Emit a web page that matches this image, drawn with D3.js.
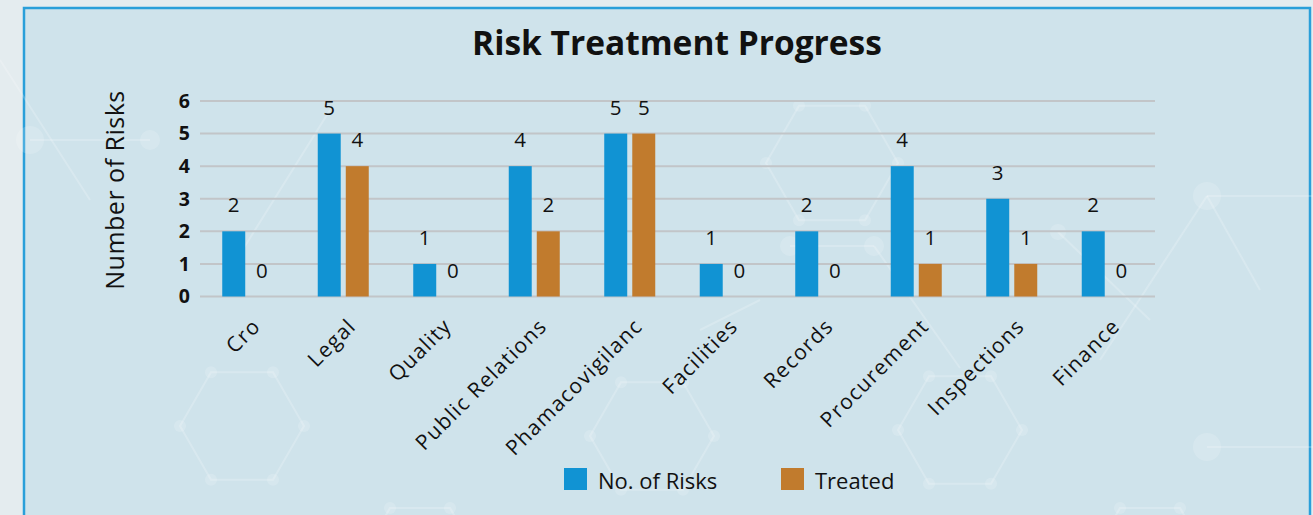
<!DOCTYPE html>
<html>
<head>
<meta charset="utf-8">
<script src="https://cdn.jsdelivr.net/npm/d3@7"></script>
<style>
  html, body { margin: 0; padding: 0; background: #e4ecef; }
  svg { display: block; font-family: "Open Sans", "DejaVu Sans", sans-serif; }
</style>
</head>
<body>
<svg id="chart" width="1313" height="515"></svg>
<script>
// Departments on the x axis
const categories = ["Cro", "Legal", "Quality", "Public Relations", "Phamacovigilanc",
                    "Facilities", "Records", "Procurement", "Inspections", "Finance"];
// Number of risks logged per department
const risks = [2, 5, 1, 4, 5, 1, 2, 4, 3, 2];
// Number of those risks that have been treated
const treated = [0, 4, 0, 2, 5, 0, 0, 1, 1, 0];
// Series names and y-axis ticks
const seriesNames = ["No. of Risks", "Treated"];
const yTicks = [0, 1, 2, 3, 4, 5, 6];

const colors = { "No. of Risks": "#1193d3", "Treated": "#c17b2d" };

const W = 1313, H = 515;
const svg = d3.select("#chart");

// ---- background and panel ----
svg.append("rect").attr("width", W).attr("height", H).attr("fill", "#e4ecef");
svg.append("rect")
  .attr("x", 24).attr("y", 8).attr("width", 1286).attr("height", 530)
  .attr("fill", "#cfe3eb").attr("stroke", "#2a9fd9").attr("stroke-width", 2.5);

// faint molecular hexagon decoration
const deco = svg.append("g").attr("fill", "none").attr("stroke", "#ffffff")
  .attr("stroke-opacity", 0.2).attr("stroke-width", 2);
const hexes = [
  [832, 163, 66], [242, 426, 62], [652, 436, 62], [1150, 560, 60],
  [420, 560, 60], [960, 430, 62]
];
hexes.forEach(([cx, cy, r]) => {
  const pts = d3.range(6).map(i => {
    const a = Math.PI / 3 * i;
    return [cx + r * Math.cos(a), cy + r * Math.sin(a)];
  });
  deco.append("path").attr("d", d3.line()(pts) + "Z");
  pts.forEach(p => deco.append("circle").attr("cx", p[0]).attr("cy", p[1]).attr("r", 6)
    .attr("fill", "#ffffff").attr("fill-opacity", 0.16).attr("stroke", "none"));
});
const links = [
  [[790, 246], [874, 246]], [[874, 246], [960, 368]], [[1207, 196], [1313, 196]],
  [[1207, 196], [1100, 360]], [[1207, 196], [1260, 290]], [[1207, 447], [1313, 447]],
  [[1058, 232], [1150, 320]], [[30, 140], [150, 140]], [[0, 60], [90, 200]],
  [[330, 110], [230, 270]], [[700, 330], [760, 300]]
];
links.forEach(([a, b]) => deco.append("line")
  .attr("x1", a[0]).attr("y1", a[1]).attr("x2", b[0]).attr("y2", b[1]));
[[1207, 196, 14], [790, 246, 10], [874, 246, 10], [1207, 447, 14], [30, 140, 14],
 [150, 140, 10], [1058, 232, 8]].forEach(([x, y, r]) =>
  deco.append("circle").attr("cx", x).attr("cy", y).attr("r", r)
    .attr("fill", "#ffffff").attr("fill-opacity", 0.16).attr("stroke", "none"));

// ---- scales ----
const x = d3.scaleBand().domain(categories).range([200, 1155]);
const xSub = d3.scaleBand().domain(seriesNames).range([0, 51]).paddingInner(0.18);
const y = d3.scaleLinear().domain([0, 6]).range([296.5, 101]);

// ---- title ----
svg.append("text")
  .attr("x", 677).attr("y", 55)
  .attr("text-anchor", "middle")
  .attr("font-size", 33.5).attr("font-weight", 700).attr("fill", "#111")
  .text("Risk Treatment Progress");

// ---- gridlines ----
svg.append("g").selectAll("line").data(yTicks).join("line")
  .attr("x1", 200).attr("x2", 1155)
  .attr("y1", d => y(d)).attr("y2", d => y(d))
  .attr("stroke", "#c2c5c8").attr("stroke-width", 2);

// ---- y axis ----
const yAxis = svg.append("g").attr("transform", "translate(200,0)")
  .call(d3.axisLeft(y).tickValues(yTicks).tickSize(0).tickPadding(10).tickFormat(d3.format("d")));
yAxis.select(".domain").remove();
yAxis.selectAll("text")
  .attr("font-family", "'Open Sans', sans-serif")
  .attr("font-size", 19.5).attr("font-weight", 700).attr("fill", "#111");

svg.append("text")
  .attr("transform", "translate(124,190) rotate(-90)")
  .attr("text-anchor", "middle")
  .attr("font-size", 25).attr("letter-spacing", 0.5).attr("fill", "#111")
  .text("Number of Risks");

// ---- bars ----
const rows = categories.map((c, i) => ({ cat: c, values: [risks[i], treated[i]] }));
const groups = svg.append("g").selectAll("g").data(rows).join("g")
  .attr("transform", d => `translate(${x(d.cat) + x.bandwidth() / 2 - 25.5},0)`);

groups.selectAll("rect")
  .data(d => d.values.map((v, j) => ({ key: seriesNames[j], v })))
  .join("rect")
  .attr("x", d => xSub(d.key))
  .attr("width", xSub.bandwidth())
  .attr("y", d => y(d.v))
  .attr("height", d => y(0) - y(d.v))
  .attr("fill", d => colors[d.key]);

groups.selectAll("text")
  .data(d => d.values.map((v, j) => ({ key: seriesNames[j], v })))
  .join("text")
  .attr("x", d => xSub(d.key) + xSub.bandwidth() / 2)
  .attr("y", d => y(d.v) - 19)
  .attr("text-anchor", "middle")
  .attr("font-size", 20.5).attr("fill", "#111")
  .text(d => d.v);

// ---- x axis labels ----
const xAxis = svg.append("g").attr("transform", `translate(0,${y(0)})`)
  .call(d3.axisBottom(x).tickSize(0));
xAxis.select(".domain").remove();
xAxis.selectAll("text")
  .attr("font-family", "'Open Sans', sans-serif")
  .attr("font-size", 21).attr("letter-spacing", 1.3).attr("fill", "#111")
  .attr("text-anchor", "end")
  .attr("x", 0).attr("y", 0).attr("dy", 0)
  .attr("transform", "translate(14,31) rotate(-45)");

// ---- legend ----
const legendX = [564, 781];
const legend = svg.append("g").selectAll("g").data(seriesNames).join("g")
  .attr("transform", (d, i) => `translate(${legendX[i]},468)`);
legend.append("rect").attr("width", 23).attr("height", 22).attr("fill", d => colors[d]);
legend.append("text")
  .attr("x", 34).attr("y", 21)
  .attr("font-size", 22).attr("fill", "#111")
  .text(d => d);
</script>
</body>
</html>
